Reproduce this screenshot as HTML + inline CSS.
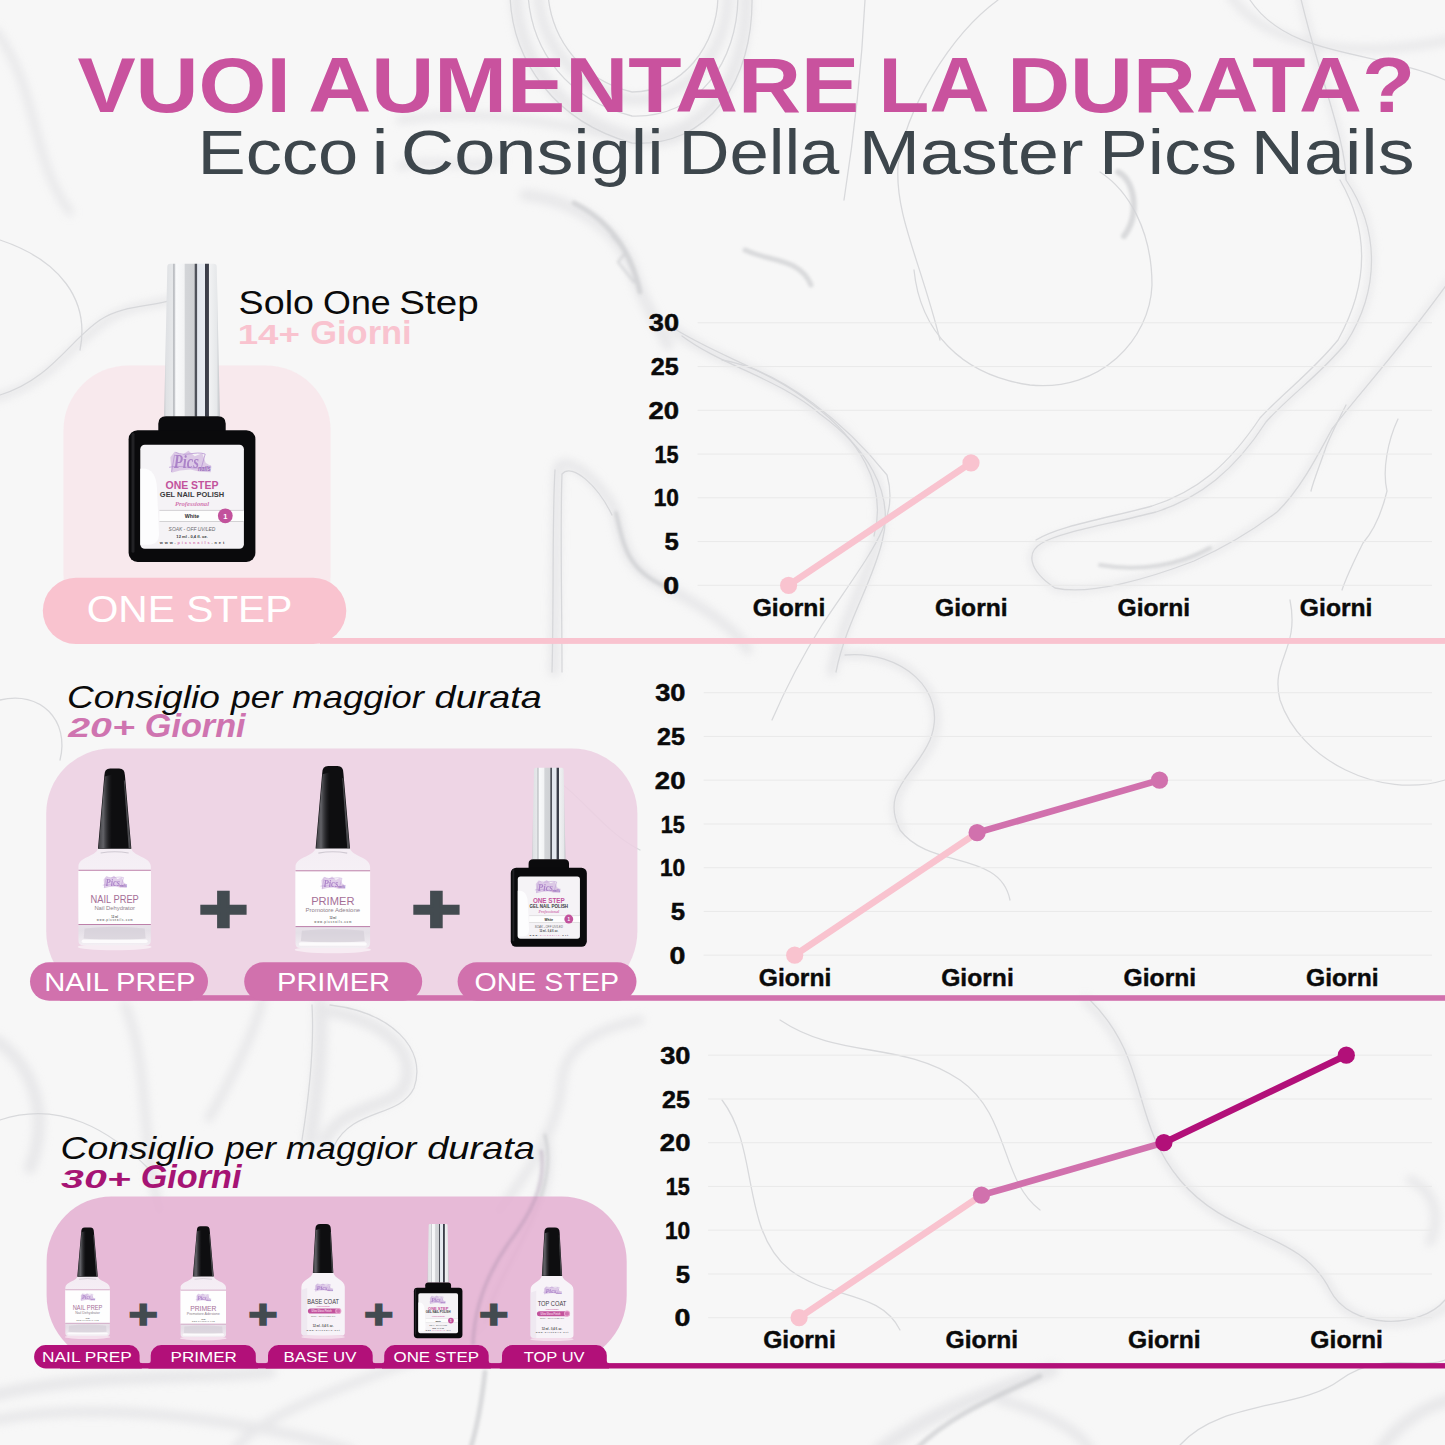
<!DOCTYPE html>
<html lang="it"><head><meta charset="utf-8"><title>Vuoi aumentare la durata?</title>
<style>html,body{margin:0;padding:0;background:#f7f7f7;}body{width:1445px;height:1445px;overflow:hidden;position:relative;}svg{position:absolute;left:0;top:0;display:block}</style></head><body>
<svg width="1445" height="1445" viewBox="0 0 1445 1445">
<defs><filter id="bl12" x="-20%" y="-20%" width="140%" height="140%"><feGaussianBlur stdDeviation="10"/></filter><filter id="bl5" x="-20%" y="-20%" width="140%" height="140%"><feGaussianBlur stdDeviation="4"/></filter><filter id="bl2" x="-20%" y="-20%" width="140%" height="140%"><feGaussianBlur stdDeviation="1.6"/></filter><filter id="bl07" x="-20%" y="-20%" width="140%" height="140%"><feGaussianBlur stdDeviation=".6"/></filter></defs>
<rect width="1445" height="1445" fill="#f7f7f7"/>
<g filter="url(#bl5)" fill="none" stroke="#dddde0" stroke-linecap="round" stroke-linejoin="round" opacity=".6">
<path d="M516,-5 C518,60 560,118 632,137 C705,142 748,80 746,-5" stroke-width="12"/>
<path d="M538,-5 C542,45 575,88 632,100 C690,100 728,50 728,-5" stroke-width="10"/>
<path d="M400,120 C480,108 560,122 632,141 C660,146 676,140 690,132" stroke-width="8"/>
<path d="M400,166 C440,158 470,170 500,160" stroke-width="8"/>
<path d="M525,195 C575,200 618,230 632,268 C640,295 655,320 668,345" stroke-width="11"/>
<path d="M674,330 C716,362 774,372 815,409 C860,440 892,486 878,538 C868,580 842,620 832,672" stroke-width="10"/>
<path d="M554,672 C556,600 555,520 558,467 C570,455 600,482 616,513 C624,548 628,570 666,587 C700,605 735,628 748,650" stroke-width="10"/>
<path d="M-5,398 C50,385 72,342 110,318 C140,300 170,308 195,288" stroke-width="8"/>
<path d="M-5,30 C40,90 30,160 70,212" stroke-width="8"/>
<path d="M1300,-5 C1320,80 1346,140 1346,180 C1380,230 1380,290 1346,343 C1320,375 1290,395 1266,422 C1235,470 1200,498 1156,512 C1110,524 1060,532 1042,543 C1026,552 1028,570 1055,588 C1090,596 1150,578 1194,561 C1230,545 1256,528 1277,512 C1300,490 1318,455 1332,429 C1360,392 1400,350 1450,280" stroke-width="6"/>
<path d="M845,655 C900,650 952,690 932,742 C916,776 880,792 902,832" stroke-width="8"/>
<path d="M320,1005 C322,1040 318,1090 310,1140" stroke-width="14"/>
<path d="M322,1010 C380,1018 418,1050 405,1085 C392,1110 345,1102 325,1140" stroke-width="12"/>
<path d="M-5,1040 C30,1062 52,1112 30,1168" stroke-width="12"/>
<path d="M125,1005 C150,1065 140,1140 160,1212" stroke-width="9"/>
<path d="M209,1118 C238,1068 258,1022 262,1000" stroke-width="9"/>
<path d="M498,1212 C540,1158 560,1118 562,1080 C565,1050 590,1030 640,1020" stroke-width="9"/>
<path d="M545,1135 C562,1200 500,1262 485,1322 C478,1352 270,1395 235,1450" stroke-width="9"/>
<path d="M270,1372 C200,1380 90,1372 -5,1395" stroke-width="12"/>
<path d="M-5,1420 C100,1400 250,1420 350,1450" stroke-width="10"/>
<path d="M1052,1370 C1000,1390 930,1410 880,1450" stroke-width="14"/>
<path d="M1000,1400 C1040,1410 1080,1430 1090,1450" stroke-width="10"/>
<path d="M1380,1450 C1400,1420 1430,1405 1450,1400" stroke-width="12"/>
<path d="M1085,1000 C1150,1060 1130,1120 1182,1182 C1232,1242 1300,1232 1332,1292 C1352,1332 1420,1332 1455,1300" stroke-width="8"/>
<path d="M1410,1180 C1434,1190 1442,1216 1430,1242" stroke-width="9"/>
<path d="M1230,-5 C1262,42 1340,62 1450,40" stroke-width="8"/>
</g>
<g filter="url(#bl2)" fill="none" stroke="#c9cacd" stroke-linecap="round" opacity=".65">
<path d="M574,203 C612,222 632,255 640,292" stroke-width="5"/>
<path d="M612,236 L626,252 L618,262 L634,282" stroke-width="2.5"/>
<path d="M1118,172 C1135,180 1140,215 1124,236" stroke-width="6"/>
<path d="M616,513 C624,548 628,570 666,587" stroke-width="4"/>
<path d="M545,1135 C562,1200 500,1262 485,1322" stroke-width="3"/>
<path d="M485,1372 C482,1400 478,1425 470,1450" stroke-width="5"/>
<path d="M1040,1376 C1000,1395 950,1415 915,1450" stroke-width="5"/>
<path d="M745,250 C770,262 800,258 811,285" stroke-width="5"/>
<path d="M1100,565 C1140,572 1180,565 1210,548" stroke-width="4"/>
</g>
<g filter="url(#bl07)" fill="none" stroke="#d3d4d7" stroke-width="1.3" stroke-linecap="round" opacity=".85">
<path d="M914,270 C920,330 960,375 1030,385 C1100,392 1150,340 1152,285 C1152,230 1128,190 1100,172"/>
<path d="M1300,-5 C1320,80 1346,140 1346,180 C1380,230 1380,290 1346,343 C1320,375 1290,395 1266,422 C1235,470 1200,498 1156,512 C1110,524 1060,532 1042,543 C1026,552 1028,570 1055,588 C1090,596 1150,578 1194,561 C1230,545 1256,528 1277,512 C1300,490 1318,455 1332,429 C1360,392 1400,350 1450,280"/>
<path d="M1340,180 C1370,232 1368,286 1338,340 C1312,372 1284,392 1260,418 C1228,466 1196,492 1152,506 C1108,518 1058,526 1036,540"/>
<path d="M1398,419 C1388,440 1382,470 1387,491 C1380,520 1370,535 1363,543 C1352,565 1346,578 1342,590"/>
<path d="M1346,405 C1336,425 1328,440 1325,450 C1318,470 1313,482 1311,491"/>
<path d="M722,360 C782,370 847,425 887,475 C900,520 872,550 822,625 C800,660 785,690 772,720"/>
<path d="M865,0 C862,60 855,130 844,200"/>
<path d="M998,0 C950,35 905,110 898,166 C895,215 920,260 940,340"/>
<path d="M670,326 C716,356 770,370 812,404 C858,438 888,484 874,536"/>
<path d="M682,336 C722,366 778,378 820,414 C864,446 896,490 882,542 C872,584 846,622 836,672"/>
<path d="M510,-5 C512,62 556,122 632,143 C708,148 754,82 752,-5"/>
<path d="M528,-5 C532,52 568,100 632,116 C698,118 738,62 738,-5"/>
<path d="M548,-5 C552,40 582,80 632,92 C682,92 718,45 718,-5"/>
<path d="M0,395 C50,380 70,340 100,320 C130,300 170,310 190,290"/>
<path d="M845,655 C900,650 950,690 930,740 C915,775 880,790 900,830 C930,870 1000,850 1010,900"/>
<path d="M1445,780 C1380,800 1300,760 1280,700 C1270,660 1300,650 1290,600"/>
<path d="M540,770 C580,790 600,830 640,850"/>
<path d="M0,1120 C60,1100 110,1130 150,1170"/>
<path d="M1090,1000 C1150,1060 1130,1120 1180,1180 C1230,1240 1300,1230 1330,1290 C1350,1330 1420,1330 1445,1300"/>
<path d="M780,1020 C840,1060 900,1040 960,1080 C1010,1115 1000,1180 1040,1210"/>
<path d="M722,1100 C760,1150 740,1230 790,1270 C830,1300 880,1290 900,1330"/>
<path d="M1250,0 C1290,60 1380,50 1445,80"/>
<path d="M0,240 C60,260 90,300 80,350"/>
<path d="M1180,1445 C1220,1400 1300,1410 1340,1380 C1380,1350 1420,1370 1445,1360"/>
<path d="M0,700 C40,690 70,720 60,760"/>
<path d="M552,672 C554,600 552,520 555,470"/>
<path d="M562,672 C562,600 560,530 562,474 C572,462 598,486 612,515"/>
<path d="M330,1005 C390,1012 428,1048 414,1088 C400,1118 352,1108 334,1146"/>
<path d="M312,1005 C314,1040 310,1090 302,1140"/>
</g>
<rect x="63.50" y="365.40" width="267.10" height="274.60" rx="65" ry="65" fill="#f8e7eb" fill-opacity=".86"/>
<rect x="42.80" y="577.70" width="303.50" height="66.20" rx="33.1" ry="33.1" fill="#f9c3cf" />
<rect x="320.00" y="638.00" width="1125.00" height="5.90" rx="0" ry="0" fill="#f9c3cf" />
<path d="M111.2,748.5 L572.4,748.5 A65,65 0 0 1 637.4,813.5 L637.4,931 A69,69 0 0 1 568.4,1000 L115.2,1000 A69,69 0 0 1 46.2,931 L46.2,813.5 A65,65 0 0 1 111.2,748.5 Z" fill="#eccfe2" fill-opacity=".86"/>
<rect x="60.00" y="995.20" width="1385.00" height="5.60" rx="0" ry="0" fill="#d171ad" />
<path d="M111.6,1196.4 L561.7,1196.4 A65,65 0 0 1 626.7,1261.4 L626.7,1295.5 A69,69 0 0 1 557.7,1364.5 L115.6,1364.5 A69,69 0 0 1 46.6,1295.5 L46.6,1261.4 A65,65 0 0 1 111.6,1196.4 Z" fill="#e5b2d3" fill-opacity=".88"/>
<path d="M541,1150 C547,1185 530,1215 508,1244 C490,1270 474,1305 473,1345" fill="none" stroke="#9d86a3" stroke-width="3.5" opacity=".33" filter="url(#bl2)"/>
<rect x="60.00" y="1363.10" width="1385.00" height="5.40" rx="0" ry="0" fill="#b21079" />
<g>
<line x1="697.6" y1="585.30" x2="1432" y2="585.30" stroke="#e9e9e9" stroke-width="1"/>
<line x1="697.6" y1="541.55" x2="1432" y2="541.55" stroke="#e9e9e9" stroke-width="1"/>
<line x1="697.6" y1="497.80" x2="1432" y2="497.80" stroke="#e9e9e9" stroke-width="1"/>
<line x1="697.6" y1="454.05" x2="1432" y2="454.05" stroke="#e9e9e9" stroke-width="1"/>
<line x1="697.6" y1="410.30" x2="1432" y2="410.30" stroke="#e9e9e9" stroke-width="1"/>
<line x1="697.6" y1="366.55" x2="1432" y2="366.55" stroke="#e9e9e9" stroke-width="1"/>
<line x1="697.6" y1="322.80" x2="1432" y2="322.80" stroke="#e9e9e9" stroke-width="1"/>
<text x="663.27" y="593.85" font-family='"Liberation Sans", "DejaVu Sans", sans-serif' font-size="24.40" font-weight="700" font-style="normal" fill="#0a0a0a" textLength="15.90" lengthAdjust="spacingAndGlyphs" stroke="#0a0a0a" stroke-width=".5">0</text>
<text x="664.41" y="550.10" font-family='"Liberation Sans", "DejaVu Sans", sans-serif' font-size="24.40" font-weight="700" font-style="normal" fill="#0a0a0a" textLength="14.31" lengthAdjust="spacingAndGlyphs" stroke="#0a0a0a" stroke-width=".5">5</text>
<text x="653.67" y="506.35" font-family='"Liberation Sans", "DejaVu Sans", sans-serif' font-size="24.40" font-weight="700" font-style="normal" fill="#0a0a0a" textLength="25.26" lengthAdjust="spacingAndGlyphs" stroke="#0a0a0a" stroke-width=".5">10</text>
<text x="654.54" y="462.60" font-family='"Liberation Sans", "DejaVu Sans", sans-serif' font-size="24.40" font-weight="700" font-style="normal" fill="#0a0a0a" textLength="24.06" lengthAdjust="spacingAndGlyphs" stroke="#0a0a0a" stroke-width=".5">15</text>
<text x="648.55" y="418.85" font-family='"Liberation Sans", "DejaVu Sans", sans-serif' font-size="24.40" font-weight="700" font-style="normal" fill="#0a0a0a" textLength="30.58" lengthAdjust="spacingAndGlyphs" stroke="#0a0a0a" stroke-width=".5">20</text>
<text x="650.83" y="375.10" font-family='"Liberation Sans", "DejaVu Sans", sans-serif' font-size="24.40" font-weight="700" font-style="normal" fill="#0a0a0a" textLength="27.87" lengthAdjust="spacingAndGlyphs" stroke="#0a0a0a" stroke-width=".5">25</text>
<text x="648.88" y="331.35" font-family='"Liberation Sans", "DejaVu Sans", sans-serif' font-size="24.40" font-weight="700" font-style="normal" fill="#0a0a0a" textLength="30.24" lengthAdjust="spacingAndGlyphs" stroke="#0a0a0a" stroke-width=".5">30</text>
<text x="752.69" y="615.60" font-family='"Liberation Sans", "DejaVu Sans", sans-serif' font-size="23.30" font-weight="700" font-style="normal" fill="#0a0a0a" textLength="72.56" lengthAdjust="spacingAndGlyphs" stroke="#0a0a0a" stroke-width=".4">Giorni</text>
<text x="935.09" y="615.60" font-family='"Liberation Sans", "DejaVu Sans", sans-serif' font-size="23.30" font-weight="700" font-style="normal" fill="#0a0a0a" textLength="72.56" lengthAdjust="spacingAndGlyphs" stroke="#0a0a0a" stroke-width=".4">Giorni</text>
<text x="1117.49" y="615.60" font-family='"Liberation Sans", "DejaVu Sans", sans-serif' font-size="23.30" font-weight="700" font-style="normal" fill="#0a0a0a" textLength="72.56" lengthAdjust="spacingAndGlyphs" stroke="#0a0a0a" stroke-width=".4">Giorni</text>
<text x="1299.89" y="615.60" font-family='"Liberation Sans", "DejaVu Sans", sans-serif' font-size="23.30" font-weight="700" font-style="normal" fill="#0a0a0a" textLength="72.56" lengthAdjust="spacingAndGlyphs" stroke="#0a0a0a" stroke-width=".4">Giorni</text>
<line x1="788.60" y1="585.30" x2="971.00" y2="462.80" stroke="#f9c3cf" stroke-width="6.6" stroke-linecap="round"/>
<circle cx="788.60" cy="585.30" r="8.6" fill="#f9c3cf"/>
<circle cx="971.00" cy="462.80" r="8.6" fill="#f9c3cf"/>
</g>
<g>
<line x1="703.7" y1="955.20" x2="1432" y2="955.20" stroke="#e9e9e9" stroke-width="1"/>
<line x1="703.7" y1="911.45" x2="1432" y2="911.45" stroke="#e9e9e9" stroke-width="1"/>
<line x1="703.7" y1="867.70" x2="1432" y2="867.70" stroke="#e9e9e9" stroke-width="1"/>
<line x1="703.7" y1="823.95" x2="1432" y2="823.95" stroke="#e9e9e9" stroke-width="1"/>
<line x1="703.7" y1="780.20" x2="1432" y2="780.20" stroke="#e9e9e9" stroke-width="1"/>
<line x1="703.7" y1="736.45" x2="1432" y2="736.45" stroke="#e9e9e9" stroke-width="1"/>
<line x1="703.7" y1="692.70" x2="1432" y2="692.70" stroke="#e9e9e9" stroke-width="1"/>
<text x="669.57" y="963.75" font-family='"Liberation Sans", "DejaVu Sans", sans-serif' font-size="24.40" font-weight="700" font-style="normal" fill="#0a0a0a" textLength="15.90" lengthAdjust="spacingAndGlyphs" stroke="#0a0a0a" stroke-width=".5">0</text>
<text x="670.71" y="920.00" font-family='"Liberation Sans", "DejaVu Sans", sans-serif' font-size="24.40" font-weight="700" font-style="normal" fill="#0a0a0a" textLength="14.31" lengthAdjust="spacingAndGlyphs" stroke="#0a0a0a" stroke-width=".5">5</text>
<text x="659.97" y="876.25" font-family='"Liberation Sans", "DejaVu Sans", sans-serif' font-size="24.40" font-weight="700" font-style="normal" fill="#0a0a0a" textLength="25.26" lengthAdjust="spacingAndGlyphs" stroke="#0a0a0a" stroke-width=".5">10</text>
<text x="660.84" y="832.50" font-family='"Liberation Sans", "DejaVu Sans", sans-serif' font-size="24.40" font-weight="700" font-style="normal" fill="#0a0a0a" textLength="24.06" lengthAdjust="spacingAndGlyphs" stroke="#0a0a0a" stroke-width=".5">15</text>
<text x="654.85" y="788.75" font-family='"Liberation Sans", "DejaVu Sans", sans-serif' font-size="24.40" font-weight="700" font-style="normal" fill="#0a0a0a" textLength="30.58" lengthAdjust="spacingAndGlyphs" stroke="#0a0a0a" stroke-width=".5">20</text>
<text x="657.13" y="745.00" font-family='"Liberation Sans", "DejaVu Sans", sans-serif' font-size="24.40" font-weight="700" font-style="normal" fill="#0a0a0a" textLength="27.87" lengthAdjust="spacingAndGlyphs" stroke="#0a0a0a" stroke-width=".5">25</text>
<text x="655.18" y="701.25" font-family='"Liberation Sans", "DejaVu Sans", sans-serif' font-size="24.40" font-weight="700" font-style="normal" fill="#0a0a0a" textLength="30.24" lengthAdjust="spacingAndGlyphs" stroke="#0a0a0a" stroke-width=".5">30</text>
<text x="758.79" y="985.50" font-family='"Liberation Sans", "DejaVu Sans", sans-serif' font-size="23.30" font-weight="700" font-style="normal" fill="#0a0a0a" textLength="72.56" lengthAdjust="spacingAndGlyphs" stroke="#0a0a0a" stroke-width=".4">Giorni</text>
<text x="941.19" y="985.50" font-family='"Liberation Sans", "DejaVu Sans", sans-serif' font-size="23.30" font-weight="700" font-style="normal" fill="#0a0a0a" textLength="72.56" lengthAdjust="spacingAndGlyphs" stroke="#0a0a0a" stroke-width=".4">Giorni</text>
<text x="1123.59" y="985.50" font-family='"Liberation Sans", "DejaVu Sans", sans-serif' font-size="23.30" font-weight="700" font-style="normal" fill="#0a0a0a" textLength="72.56" lengthAdjust="spacingAndGlyphs" stroke="#0a0a0a" stroke-width=".4">Giorni</text>
<text x="1305.99" y="985.50" font-family='"Liberation Sans", "DejaVu Sans", sans-serif' font-size="23.30" font-weight="700" font-style="normal" fill="#0a0a0a" textLength="72.56" lengthAdjust="spacingAndGlyphs" stroke="#0a0a0a" stroke-width=".4">Giorni</text>
<line x1="794.70" y1="955.20" x2="977.10" y2="832.70" stroke="#f9c3cf" stroke-width="6.6" stroke-linecap="round"/>
<line x1="977.10" y1="832.70" x2="1159.50" y2="780.20" stroke="#d171ad" stroke-width="6.6" stroke-linecap="round"/>
<circle cx="794.70" cy="955.20" r="8.6" fill="#f9c3cf"/>
<circle cx="977.10" cy="832.70" r="8.6" fill="#d171ad"/>
<circle cx="1159.50" cy="780.20" r="8.6" fill="#d171ad"/>
</g>
<g>
<line x1="708.1" y1="1317.70" x2="1432" y2="1317.70" stroke="#e9e9e9" stroke-width="1"/>
<line x1="708.1" y1="1273.95" x2="1432" y2="1273.95" stroke="#e9e9e9" stroke-width="1"/>
<line x1="708.1" y1="1230.20" x2="1432" y2="1230.20" stroke="#e9e9e9" stroke-width="1"/>
<line x1="708.1" y1="1186.45" x2="1432" y2="1186.45" stroke="#e9e9e9" stroke-width="1"/>
<line x1="708.1" y1="1142.70" x2="1432" y2="1142.70" stroke="#e9e9e9" stroke-width="1"/>
<line x1="708.1" y1="1098.95" x2="1432" y2="1098.95" stroke="#e9e9e9" stroke-width="1"/>
<line x1="708.1" y1="1055.20" x2="1432" y2="1055.20" stroke="#e9e9e9" stroke-width="1"/>
<text x="674.57" y="1326.25" font-family='"Liberation Sans", "DejaVu Sans", sans-serif' font-size="24.40" font-weight="700" font-style="normal" fill="#0a0a0a" textLength="15.90" lengthAdjust="spacingAndGlyphs" stroke="#0a0a0a" stroke-width=".5">0</text>
<text x="675.71" y="1282.50" font-family='"Liberation Sans", "DejaVu Sans", sans-serif' font-size="24.40" font-weight="700" font-style="normal" fill="#0a0a0a" textLength="14.31" lengthAdjust="spacingAndGlyphs" stroke="#0a0a0a" stroke-width=".5">5</text>
<text x="664.97" y="1238.75" font-family='"Liberation Sans", "DejaVu Sans", sans-serif' font-size="24.40" font-weight="700" font-style="normal" fill="#0a0a0a" textLength="25.26" lengthAdjust="spacingAndGlyphs" stroke="#0a0a0a" stroke-width=".5">10</text>
<text x="665.84" y="1195.00" font-family='"Liberation Sans", "DejaVu Sans", sans-serif' font-size="24.40" font-weight="700" font-style="normal" fill="#0a0a0a" textLength="24.06" lengthAdjust="spacingAndGlyphs" stroke="#0a0a0a" stroke-width=".5">15</text>
<text x="659.85" y="1151.25" font-family='"Liberation Sans", "DejaVu Sans", sans-serif' font-size="24.40" font-weight="700" font-style="normal" fill="#0a0a0a" textLength="30.58" lengthAdjust="spacingAndGlyphs" stroke="#0a0a0a" stroke-width=".5">20</text>
<text x="662.13" y="1107.50" font-family='"Liberation Sans", "DejaVu Sans", sans-serif' font-size="24.40" font-weight="700" font-style="normal" fill="#0a0a0a" textLength="27.87" lengthAdjust="spacingAndGlyphs" stroke="#0a0a0a" stroke-width=".5">25</text>
<text x="660.18" y="1063.75" font-family='"Liberation Sans", "DejaVu Sans", sans-serif' font-size="24.40" font-weight="700" font-style="normal" fill="#0a0a0a" textLength="30.24" lengthAdjust="spacingAndGlyphs" stroke="#0a0a0a" stroke-width=".5">30</text>
<text x="763.19" y="1348.00" font-family='"Liberation Sans", "DejaVu Sans", sans-serif' font-size="23.30" font-weight="700" font-style="normal" fill="#0a0a0a" textLength="72.56" lengthAdjust="spacingAndGlyphs" stroke="#0a0a0a" stroke-width=".4">Giorni</text>
<text x="945.59" y="1348.00" font-family='"Liberation Sans", "DejaVu Sans", sans-serif' font-size="23.30" font-weight="700" font-style="normal" fill="#0a0a0a" textLength="72.56" lengthAdjust="spacingAndGlyphs" stroke="#0a0a0a" stroke-width=".4">Giorni</text>
<text x="1127.99" y="1348.00" font-family='"Liberation Sans", "DejaVu Sans", sans-serif' font-size="23.30" font-weight="700" font-style="normal" fill="#0a0a0a" textLength="72.56" lengthAdjust="spacingAndGlyphs" stroke="#0a0a0a" stroke-width=".4">Giorni</text>
<text x="1310.39" y="1348.00" font-family='"Liberation Sans", "DejaVu Sans", sans-serif' font-size="23.30" font-weight="700" font-style="normal" fill="#0a0a0a" textLength="72.56" lengthAdjust="spacingAndGlyphs" stroke="#0a0a0a" stroke-width=".4">Giorni</text>
<line x1="799.10" y1="1317.70" x2="981.50" y2="1195.20" stroke="#f9c3cf" stroke-width="6.6" stroke-linecap="round"/>
<line x1="981.50" y1="1195.20" x2="1163.90" y2="1142.70" stroke="#d171ad" stroke-width="6.6" stroke-linecap="round"/>
<line x1="1163.90" y1="1142.70" x2="1346.30" y2="1055.20" stroke="#b21079" stroke-width="6.6" stroke-linecap="round"/>
<circle cx="799.10" cy="1317.70" r="8.6" fill="#f9c3cf"/>
<circle cx="981.50" cy="1195.20" r="8.6" fill="#d171ad"/>
<circle cx="1163.90" cy="1142.70" r="8.6" fill="#b21079"/>
<circle cx="1346.30" cy="1055.20" r="8.6" fill="#b21079"/>
</g>
<defs>
<linearGradient id="capS" x1="0" y1="0" x2="1" y2="0">
<stop offset="0" stop-color="#c4c7cb"/><stop offset=".035" stop-color="#dfe1e4"/><stop offset=".15" stop-color="#e6e8ea"/>
<stop offset=".175" stop-color="#aeb1b6"/><stop offset=".21" stop-color="#f9fafb"/><stop offset=".36" stop-color="#f2f3f4"/>
<stop offset=".378" stop-color="#d3d5d8"/><stop offset=".54" stop-color="#cfd1d4"/><stop offset=".556" stop-color="#4f525a"/>
<stop offset=".585" stop-color="#50535b"/><stop offset=".6" stop-color="#e3e7ee"/><stop offset=".725" stop-color="#e7ebf1"/>
<stop offset=".737" stop-color="#3a3d48"/><stop offset=".795" stop-color="#3e414c"/><stop offset=".81" stop-color="#f1f2f3"/>
<stop offset=".94" stop-color="#e6e8ea"/><stop offset="1" stop-color="#bfc2c6"/></linearGradient>
<linearGradient id="capB" x1="0" y1="0" x2="1" y2="0">
<stop offset="0" stop-color="#5e5e63"/><stop offset=".07" stop-color="#7a7a80"/><stop offset=".2" stop-color="#3a3a3e"/><stop offset=".34" stop-color="#131315"/>
<stop offset=".72" stop-color="#0b0b0d"/><stop offset=".88" stop-color="#38383c"/><stop offset=".95" stop-color="#4a4a4f"/><stop offset="1" stop-color="#222225"/></linearGradient>
<linearGradient id="capHL" x1="0" y1="0" x2="1" y2="0"><stop offset="0" stop-color="#6a6a70" stop-opacity=".55"/><stop offset=".35" stop-color="#77777d" stop-opacity=".8"/><stop offset="1" stop-color="#2a2a2e" stop-opacity="0"/></linearGradient>
<linearGradient id="glass" x1="0" y1="0" x2="0" y2="1">
<stop offset="0" stop-color="#f4eff5"/><stop offset=".5" stop-color="#f8f5f9"/><stop offset=".85" stop-color="#e4e0e7"/><stop offset="1" stop-color="#f3f0f4"/></linearGradient>
</defs>
<g transform="translate(192.00,263.70) scale(1)">
<path d="M-24.7,3 Q-24.7,0 -21.7,0 L21.7,0 Q24.7,0 24.7,3 L27.9,153 L-27.9,153 Z" fill="url(#capS)"/>
<path d="M-33.7,172 L-33.7,160 Q-33.7,152.5 -26,152.5 L26,152.5 Q33.7,152.5 33.7,160 L33.7,172 Z" fill="#0b0b0d"/>
<rect x="-63.4" y="166.5" width="126.8" height="131.7" rx="9" ry="9" fill="#0a0a0c"/>
<rect x="-60.5" y="169" width="3" height="120" rx="1.5" fill="#2c2c30" opacity=".7"/>
<rect x="-51.7" y="181.1" width="103.6" height="103.9" rx="4.5" fill="#f5f3f6"/>
<path d="M-51.7,205 Q-36,203 -35,225 L-33,270 Q-33,281 -44,281 L-51.7,281 Z" fill="#fdfdfe"/>
<path d="M-21.66,193.60 L-17.46,188.10 L-9.90,191.40 L-3.60,187.00 L2.70,192.50 L10.26,189.64 L13.62,199.10 L19.50,202.84 L18.66,208.56 L6.90,207.90 L-1.50,205.70 L-12.00,206.80 L-20.40,209.00 Z" fill="#c3a0d6" opacity=".5"/><path d="M-20.40,207.90 L-17.46,191.40 M-22.50,203.50 C-9.90,200.20 2.70,207.90 18.66,202.40 M-16.20,188.76 C-5.70,193.60 2.70,187.00 13.20,190.30 L8.58,206.80" fill="none" stroke="#b48fd0" stroke-width="0.92" stroke-linecap="round" opacity=".8"/><text x="-18.30" y="204.60" font-family='"Liberation Serif", serif' font-size="18.04" font-weight="700" font-style="italic" fill="#a77cc6" textLength="25.20" lengthAdjust="spacingAndGlyphs" opacity=".9">Pics</text><text x="6.06" y="207.46" font-family='"Liberation Sans", sans-serif' font-size="6.60" font-weight="700" font-style="italic" fill="#9a6fbc" textLength="12.60" lengthAdjust="spacingAndGlyphs">nails</text>
<text x="0.00" y="225.20" font-family='"Liberation Sans", "DejaVu Sans", sans-serif' font-size="10.60" font-weight="700" font-style="normal" fill="#c2529c" text-anchor="middle" textLength="53.00" lengthAdjust="spacingAndGlyphs">ONE STEP</text>
<text x="0.00" y="232.90" font-family='"Liberation Sans", "DejaVu Sans", sans-serif' font-size="7.50" font-weight="700" font-style="normal" fill="#3a3a3c" text-anchor="middle" textLength="64.30" lengthAdjust="spacingAndGlyphs">GEL NAIL POLISH</text>
<text x="0.00" y="242.60" font-family='"Liberation Serif", serif' font-size="6.30" font-weight="700" font-style="italic" fill="#d277b0" text-anchor="middle" textLength="34.00" lengthAdjust="spacingAndGlyphs">Professional</text>
<rect x="-32.6" y="246.6" width="84.5" height="11.2" fill="#fdfdfd"/><rect x="-32.6" y="246.2" width="84.5" height=".9" fill="#cfcdd0"/><rect x="-32.6" y="257.4" width="84.5" height=".9" fill="#cfcdd0"/>
<text x="0.00" y="254.60" font-family='"Liberation Sans", "DejaVu Sans", sans-serif' font-size="5.80" font-weight="700" font-style="normal" fill="#2a2a2c" text-anchor="middle" textLength="14.30" lengthAdjust="spacingAndGlyphs">White</text>
<circle cx="33.3" cy="252.1" r="7.4" fill="#c2529c"/><text x="33.30" y="254.90" font-family='"Liberation Sans", "DejaVu Sans", sans-serif' font-size="7.50" font-weight="700" font-style="normal" fill="#fff" text-anchor="middle">1</text>
<text x="0.00" y="267.30" font-family='"Liberation Sans", "DejaVu Sans", sans-serif' font-size="6.20" font-weight="400" font-style="italic" fill="#6a6a6e" text-anchor="middle" textLength="46.80" lengthAdjust="spacingAndGlyphs">SOAK - OFF UV/LED</text>
<text x="0.00" y="274.20" font-family='"Liberation Sans", "DejaVu Sans", sans-serif' font-size="4.30" font-weight="700" font-style="normal" fill="#3a3a3c" text-anchor="middle" textLength="31.30" lengthAdjust="spacingAndGlyphs">12 ml - 0,4 fl. oz.</text>
<text x="0" y="280.1" text-anchor="middle" font-family='"Liberation Sans", "DejaVu Sans", sans-serif' font-size="3.9" font-weight="700" textLength="64.5" lengthAdjust="spacing" fill="#3a3a3c">www.<tspan fill="#d277b0">picsnails</tspan>.net</text>
</g>
<g transform="translate(114.65,768.50) scale(1)">
<ellipse cx="0" cy="178.5" rx="37" ry="3.2" fill="#fff" opacity=".55"/>
<path d="M-16.5,79 L16.5,79 C17,88 36.2,88 36.2,98 L36.2,172 Q36.2,176.7 31.5,176.7 L-31.5,176.7 Q-36.2,176.7 -36.2,172 L-36.2,98 C-36.2,88 -17,88 -16.5,79 Z" fill="url(#glass)" opacity=".93"/>
<path d="M-30,160 Q0,156.5 30,160 L31,170 Q0,173 -31,170 Z" fill="#cfcbd3" opacity=".55"/>
<rect x="-33" y="171" width="66" height="3.6" rx="1.8" fill="#fff" opacity=".8"/>
<path d="M-14,84.5 Q0,82 14,84.5" stroke="#cfc9d2" stroke-width="1.2" fill="none"/>
<rect x="-36.2" y="101.5" width="72.4" height="54.6" fill="#fefefe"/>
<rect x="-36.2" y="101.3" width="72.4" height=".9" fill="#b774a2"/><rect x="-36.2" y="155.5" width="72.4" height=".9" fill="#b774a2"/>
<path d="M-11.02,111.00 L-8.62,107.88 L-4.30,109.75 L-0.70,107.25 L2.90,110.38 L7.22,108.75 L9.14,114.12 L12.50,116.25 L12.02,119.50 L5.30,119.12 L0.50,117.88 L-5.50,118.50 L-10.30,119.75 Z" fill="#c3a0d6" opacity=".5"/><path d="M-10.30,119.12 L-8.62,109.75 M-11.50,116.62 C-4.30,114.75 2.90,119.12 12.02,116.00 M-7.90,108.25 C-1.90,111.00 2.90,107.25 8.90,109.12 L6.26,118.50" fill="none" stroke="#b48fd0" stroke-width="0.53" stroke-linecap="round" opacity=".8"/><text x="-9.10" y="117.25" font-family='"Liberation Serif", serif' font-size="10.25" font-weight="700" font-style="italic" fill="#a77cc6" textLength="14.40" lengthAdjust="spacingAndGlyphs" opacity=".9">Pics</text><text x="4.82" y="118.88" font-family='"Liberation Sans", sans-serif' font-size="3.75" font-weight="700" font-style="italic" fill="#9a6fbc" textLength="7.20" lengthAdjust="spacingAndGlyphs">nails</text>
<text x="0.00" y="134.80" font-family='"Liberation Sans", "DejaVu Sans", sans-serif' font-size="11.20" font-weight="400" font-style="normal" fill="#a56f97" text-anchor="middle" textLength="48.30" lengthAdjust="spacingAndGlyphs">NAIL PREP</text>
<text x="0.00" y="141.60" font-family='"Liberation Sans", "DejaVu Sans", sans-serif' font-size="5.00" font-weight="400" font-style="normal" fill="#8f7f8c" text-anchor="middle" textLength="40.50" lengthAdjust="spacingAndGlyphs">Nail Dehydrator</text>
<text x="0.00" y="149.00" font-family='"Liberation Sans", "DejaVu Sans", sans-serif' font-size="2.60" font-weight="700" font-style="normal" fill="#555" text-anchor="middle">12 ml</text>
<text x="0" y="152.6" text-anchor="middle" font-family='"Liberation Sans", "DejaVu Sans", sans-serif' font-size="2.6" font-weight="700" textLength="36" lengthAdjust="spacing" fill="#777">www.picsnails.com</text>
<path d="M-10.3,7 Q-10.3,0 -4.5,0 L4.5,0 Q10.3,0 10.3,7 L16.7,80.2 L-16.7,80.2 Z" fill="#0e0e10"/>
<path d="M-9.8,8 L-2.5,6 L-3.5,79.7 L-16.2,79.7 Z" fill="url(#capHL)"/>
<path d="M9.2,12 L10.1,12 L16.2,79.5 L14,79.5 Z" fill="#66666b" opacity=".7" filter="url(#bl07)"/>
</g>
<g transform="translate(332.80,766.00) scale(1.03)">
<ellipse cx="0" cy="178.5" rx="37" ry="3.2" fill="#fff" opacity=".55"/>
<path d="M-16.5,79 L16.5,79 C17,88 36.2,88 36.2,98 L36.2,172 Q36.2,176.7 31.5,176.7 L-31.5,176.7 Q-36.2,176.7 -36.2,172 L-36.2,98 C-36.2,88 -17,88 -16.5,79 Z" fill="url(#glass)" opacity=".93"/>
<path d="M-30,160 Q0,156.5 30,160 L31,170 Q0,173 -31,170 Z" fill="#cfcbd3" opacity=".55"/>
<rect x="-33" y="171" width="66" height="3.6" rx="1.8" fill="#fff" opacity=".8"/>
<path d="M-14,84.5 Q0,82 14,84.5" stroke="#cfc9d2" stroke-width="1.2" fill="none"/>
<rect x="-36.2" y="101.5" width="72.4" height="54.6" fill="#fefefe"/>
<rect x="-36.2" y="101.3" width="72.4" height=".9" fill="#b774a2"/><rect x="-36.2" y="155.5" width="72.4" height=".9" fill="#b774a2"/>
<path d="M-11.02,111.00 L-8.62,107.88 L-4.30,109.75 L-0.70,107.25 L2.90,110.38 L7.22,108.75 L9.14,114.12 L12.50,116.25 L12.02,119.50 L5.30,119.12 L0.50,117.88 L-5.50,118.50 L-10.30,119.75 Z" fill="#c3a0d6" opacity=".5"/><path d="M-10.30,119.12 L-8.62,109.75 M-11.50,116.62 C-4.30,114.75 2.90,119.12 12.02,116.00 M-7.90,108.25 C-1.90,111.00 2.90,107.25 8.90,109.12 L6.26,118.50" fill="none" stroke="#b48fd0" stroke-width="0.53" stroke-linecap="round" opacity=".8"/><text x="-9.10" y="117.25" font-family='"Liberation Serif", serif' font-size="10.25" font-weight="700" font-style="italic" fill="#a77cc6" textLength="14.40" lengthAdjust="spacingAndGlyphs" opacity=".9">Pics</text><text x="4.82" y="118.88" font-family='"Liberation Sans", sans-serif' font-size="3.75" font-weight="700" font-style="italic" fill="#9a6fbc" textLength="7.20" lengthAdjust="spacingAndGlyphs">nails</text>
<text x="0.00" y="134.80" font-family='"Liberation Sans", "DejaVu Sans", sans-serif' font-size="11.20" font-weight="400" font-style="normal" fill="#a56f97" text-anchor="middle" textLength="42.00" lengthAdjust="spacingAndGlyphs">PRIMER</text>
<text x="0.00" y="141.60" font-family='"Liberation Sans", "DejaVu Sans", sans-serif' font-size="5.00" font-weight="400" font-style="normal" fill="#8f7f8c" text-anchor="middle" textLength="53.00" lengthAdjust="spacingAndGlyphs">Promotore Adesione</text>
<text x="0.00" y="149.00" font-family='"Liberation Sans", "DejaVu Sans", sans-serif' font-size="2.60" font-weight="700" font-style="normal" fill="#555" text-anchor="middle">12 ml</text>
<text x="0" y="152.6" text-anchor="middle" font-family='"Liberation Sans", "DejaVu Sans", sans-serif' font-size="2.6" font-weight="700" textLength="36" lengthAdjust="spacing" fill="#777">www.picsnails.com</text>
<path d="M-10.3,7 Q-10.3,0 -4.5,0 L4.5,0 Q10.3,0 10.3,7 L16.7,80.2 L-16.7,80.2 Z" fill="#0e0e10"/>
<path d="M-9.8,8 L-2.5,6 L-3.5,79.7 L-16.2,79.7 Z" fill="url(#capHL)"/>
<path d="M9.2,12 L10.1,12 L16.2,79.5 L14,79.5 Z" fill="#66666b" opacity=".7" filter="url(#bl07)"/>
</g>
<g transform="translate(548.80,767.80) scale(0.6)">
<path d="M-24.7,3 Q-24.7,0 -21.7,0 L21.7,0 Q24.7,0 24.7,3 L27.9,153 L-27.9,153 Z" fill="url(#capS)"/>
<path d="M-33.7,172 L-33.7,160 Q-33.7,152.5 -26,152.5 L26,152.5 Q33.7,152.5 33.7,160 L33.7,172 Z" fill="#0b0b0d"/>
<rect x="-63.4" y="166.5" width="126.8" height="131.7" rx="9" ry="9" fill="#0a0a0c"/>
<rect x="-60.5" y="169" width="3" height="120" rx="1.5" fill="#2c2c30" opacity=".7"/>
<rect x="-51.7" y="181.1" width="103.6" height="103.9" rx="4.5" fill="#f5f3f6"/>
<path d="M-51.7,205 Q-36,203 -35,225 L-33,270 Q-33,281 -44,281 L-51.7,281 Z" fill="#fdfdfe"/>
<path d="M-21.66,193.60 L-17.46,188.10 L-9.90,191.40 L-3.60,187.00 L2.70,192.50 L10.26,189.64 L13.62,199.10 L19.50,202.84 L18.66,208.56 L6.90,207.90 L-1.50,205.70 L-12.00,206.80 L-20.40,209.00 Z" fill="#c3a0d6" opacity=".5"/><path d="M-20.40,207.90 L-17.46,191.40 M-22.50,203.50 C-9.90,200.20 2.70,207.90 18.66,202.40 M-16.20,188.76 C-5.70,193.60 2.70,187.00 13.20,190.30 L8.58,206.80" fill="none" stroke="#b48fd0" stroke-width="0.92" stroke-linecap="round" opacity=".8"/><text x="-18.30" y="204.60" font-family='"Liberation Serif", serif' font-size="18.04" font-weight="700" font-style="italic" fill="#a77cc6" textLength="25.20" lengthAdjust="spacingAndGlyphs" opacity=".9">Pics</text><text x="6.06" y="207.46" font-family='"Liberation Sans", sans-serif' font-size="6.60" font-weight="700" font-style="italic" fill="#9a6fbc" textLength="12.60" lengthAdjust="spacingAndGlyphs">nails</text>
<text x="0.00" y="225.20" font-family='"Liberation Sans", "DejaVu Sans", sans-serif' font-size="10.60" font-weight="700" font-style="normal" fill="#c2529c" text-anchor="middle" textLength="53.00" lengthAdjust="spacingAndGlyphs">ONE STEP</text>
<text x="0.00" y="232.90" font-family='"Liberation Sans", "DejaVu Sans", sans-serif' font-size="7.50" font-weight="700" font-style="normal" fill="#3a3a3c" text-anchor="middle" textLength="64.30" lengthAdjust="spacingAndGlyphs">GEL NAIL POLISH</text>
<text x="0.00" y="242.60" font-family='"Liberation Serif", serif' font-size="6.30" font-weight="700" font-style="italic" fill="#d277b0" text-anchor="middle" textLength="34.00" lengthAdjust="spacingAndGlyphs">Professional</text>
<rect x="-32.6" y="246.6" width="84.5" height="11.2" fill="#fdfdfd"/><rect x="-32.6" y="246.2" width="84.5" height=".9" fill="#cfcdd0"/><rect x="-32.6" y="257.4" width="84.5" height=".9" fill="#cfcdd0"/>
<text x="0.00" y="254.60" font-family='"Liberation Sans", "DejaVu Sans", sans-serif' font-size="5.80" font-weight="700" font-style="normal" fill="#2a2a2c" text-anchor="middle" textLength="14.30" lengthAdjust="spacingAndGlyphs">White</text>
<circle cx="33.3" cy="252.1" r="7.4" fill="#c2529c"/><text x="33.30" y="254.90" font-family='"Liberation Sans", "DejaVu Sans", sans-serif' font-size="7.50" font-weight="700" font-style="normal" fill="#fff" text-anchor="middle">1</text>
<text x="0.00" y="267.30" font-family='"Liberation Sans", "DejaVu Sans", sans-serif' font-size="6.20" font-weight="400" font-style="italic" fill="#6a6a6e" text-anchor="middle" textLength="46.80" lengthAdjust="spacingAndGlyphs">SOAK - OFF UV/LED</text>
<text x="0.00" y="274.20" font-family='"Liberation Sans", "DejaVu Sans", sans-serif' font-size="4.30" font-weight="700" font-style="normal" fill="#3a3a3c" text-anchor="middle" textLength="31.30" lengthAdjust="spacingAndGlyphs">12 ml - 0,4 fl. oz.</text>
<text x="0" y="280.1" text-anchor="middle" font-family='"Liberation Sans", "DejaVu Sans", sans-serif' font-size="3.9" font-weight="700" textLength="64.5" lengthAdjust="spacing" fill="#3a3a3c">www.<tspan fill="#d277b0">picsnails</tspan>.net</text>
</g>
<g transform="translate(87.55,1227.40) scale(0.614)">
<ellipse cx="0" cy="178.5" rx="37" ry="3.2" fill="#fff" opacity=".55"/>
<path d="M-16.5,79 L16.5,79 C17,88 36.2,88 36.2,98 L36.2,172 Q36.2,176.7 31.5,176.7 L-31.5,176.7 Q-36.2,176.7 -36.2,172 L-36.2,98 C-36.2,88 -17,88 -16.5,79 Z" fill="url(#glass)" opacity=".93"/>
<path d="M-30,160 Q0,156.5 30,160 L31,170 Q0,173 -31,170 Z" fill="#cfcbd3" opacity=".55"/>
<rect x="-33" y="171" width="66" height="3.6" rx="1.8" fill="#fff" opacity=".8"/>
<path d="M-14,84.5 Q0,82 14,84.5" stroke="#cfc9d2" stroke-width="1.2" fill="none"/>
<rect x="-36.2" y="101.5" width="72.4" height="54.6" fill="#fefefe"/>
<rect x="-36.2" y="101.3" width="72.4" height=".9" fill="#b774a2"/><rect x="-36.2" y="155.5" width="72.4" height=".9" fill="#b774a2"/>
<path d="M-11.02,111.00 L-8.62,107.88 L-4.30,109.75 L-0.70,107.25 L2.90,110.38 L7.22,108.75 L9.14,114.12 L12.50,116.25 L12.02,119.50 L5.30,119.12 L0.50,117.88 L-5.50,118.50 L-10.30,119.75 Z" fill="#c3a0d6" opacity=".5"/><path d="M-10.30,119.12 L-8.62,109.75 M-11.50,116.62 C-4.30,114.75 2.90,119.12 12.02,116.00 M-7.90,108.25 C-1.90,111.00 2.90,107.25 8.90,109.12 L6.26,118.50" fill="none" stroke="#b48fd0" stroke-width="0.53" stroke-linecap="round" opacity=".8"/><text x="-9.10" y="117.25" font-family='"Liberation Serif", serif' font-size="10.25" font-weight="700" font-style="italic" fill="#a77cc6" textLength="14.40" lengthAdjust="spacingAndGlyphs" opacity=".9">Pics</text><text x="4.82" y="118.88" font-family='"Liberation Sans", sans-serif' font-size="3.75" font-weight="700" font-style="italic" fill="#9a6fbc" textLength="7.20" lengthAdjust="spacingAndGlyphs">nails</text>
<text x="0.00" y="134.80" font-family='"Liberation Sans", "DejaVu Sans", sans-serif' font-size="11.20" font-weight="400" font-style="normal" fill="#a56f97" text-anchor="middle" textLength="48.30" lengthAdjust="spacingAndGlyphs">NAIL PREP</text>
<text x="0.00" y="141.60" font-family='"Liberation Sans", "DejaVu Sans", sans-serif' font-size="5.00" font-weight="400" font-style="normal" fill="#8f7f8c" text-anchor="middle" textLength="40.50" lengthAdjust="spacingAndGlyphs">Nail Dehydrator</text>
<text x="0.00" y="149.00" font-family='"Liberation Sans", "DejaVu Sans", sans-serif' font-size="2.60" font-weight="700" font-style="normal" fill="#555" text-anchor="middle">12 ml</text>
<text x="0" y="152.6" text-anchor="middle" font-family='"Liberation Sans", "DejaVu Sans", sans-serif' font-size="2.6" font-weight="700" textLength="36" lengthAdjust="spacing" fill="#777">www.picsnails.com</text>
<path d="M-10.3,7 Q-10.3,0 -4.5,0 L4.5,0 Q10.3,0 10.3,7 L16.7,80.2 L-16.7,80.2 Z" fill="#0e0e10"/>
<path d="M-9.8,8 L-2.5,6 L-3.5,79.7 L-16.2,79.7 Z" fill="url(#capHL)"/>
<path d="M9.2,12 L10.1,12 L16.2,79.5 L14,79.5 Z" fill="#66666b" opacity=".7" filter="url(#bl07)"/>
</g>
<g transform="translate(203.30,1226.30) scale(0.627)">
<ellipse cx="0" cy="178.5" rx="37" ry="3.2" fill="#fff" opacity=".55"/>
<path d="M-16.5,79 L16.5,79 C17,88 36.2,88 36.2,98 L36.2,172 Q36.2,176.7 31.5,176.7 L-31.5,176.7 Q-36.2,176.7 -36.2,172 L-36.2,98 C-36.2,88 -17,88 -16.5,79 Z" fill="url(#glass)" opacity=".93"/>
<path d="M-30,160 Q0,156.5 30,160 L31,170 Q0,173 -31,170 Z" fill="#cfcbd3" opacity=".55"/>
<rect x="-33" y="171" width="66" height="3.6" rx="1.8" fill="#fff" opacity=".8"/>
<path d="M-14,84.5 Q0,82 14,84.5" stroke="#cfc9d2" stroke-width="1.2" fill="none"/>
<rect x="-36.2" y="101.5" width="72.4" height="54.6" fill="#fefefe"/>
<rect x="-36.2" y="101.3" width="72.4" height=".9" fill="#b774a2"/><rect x="-36.2" y="155.5" width="72.4" height=".9" fill="#b774a2"/>
<path d="M-11.02,111.00 L-8.62,107.88 L-4.30,109.75 L-0.70,107.25 L2.90,110.38 L7.22,108.75 L9.14,114.12 L12.50,116.25 L12.02,119.50 L5.30,119.12 L0.50,117.88 L-5.50,118.50 L-10.30,119.75 Z" fill="#c3a0d6" opacity=".5"/><path d="M-10.30,119.12 L-8.62,109.75 M-11.50,116.62 C-4.30,114.75 2.90,119.12 12.02,116.00 M-7.90,108.25 C-1.90,111.00 2.90,107.25 8.90,109.12 L6.26,118.50" fill="none" stroke="#b48fd0" stroke-width="0.53" stroke-linecap="round" opacity=".8"/><text x="-9.10" y="117.25" font-family='"Liberation Serif", serif' font-size="10.25" font-weight="700" font-style="italic" fill="#a77cc6" textLength="14.40" lengthAdjust="spacingAndGlyphs" opacity=".9">Pics</text><text x="4.82" y="118.88" font-family='"Liberation Sans", sans-serif' font-size="3.75" font-weight="700" font-style="italic" fill="#9a6fbc" textLength="7.20" lengthAdjust="spacingAndGlyphs">nails</text>
<text x="0.00" y="134.80" font-family='"Liberation Sans", "DejaVu Sans", sans-serif' font-size="11.20" font-weight="400" font-style="normal" fill="#a56f97" text-anchor="middle" textLength="42.00" lengthAdjust="spacingAndGlyphs">PRIMER</text>
<text x="0.00" y="141.60" font-family='"Liberation Sans", "DejaVu Sans", sans-serif' font-size="5.00" font-weight="400" font-style="normal" fill="#8f7f8c" text-anchor="middle" textLength="53.00" lengthAdjust="spacingAndGlyphs">Promotore Adesione</text>
<text x="0.00" y="149.00" font-family='"Liberation Sans", "DejaVu Sans", sans-serif' font-size="2.60" font-weight="700" font-style="normal" fill="#555" text-anchor="middle">12 ml</text>
<text x="0" y="152.6" text-anchor="middle" font-family='"Liberation Sans", "DejaVu Sans", sans-serif' font-size="2.6" font-weight="700" textLength="36" lengthAdjust="spacing" fill="#777">www.picsnails.com</text>
<path d="M-10.3,7 Q-10.3,0 -4.5,0 L4.5,0 Q10.3,0 10.3,7 L16.7,80.2 L-16.7,80.2 Z" fill="#0e0e10"/>
<path d="M-9.8,8 L-2.5,6 L-3.5,79.7 L-16.2,79.7 Z" fill="url(#capHL)"/>
<path d="M9.2,12 L10.1,12 L16.2,79.5 L14,79.5 Z" fill="#66666b" opacity=".7" filter="url(#bl07)"/>
</g>
<g transform="translate(323.10,1223.90) scale(1)">
<ellipse cx="0" cy="113" rx="22" ry="1.8" fill="#fff" opacity=".5"/>
<path d="M-10.2,48 L10.2,48 C10.6,55 21.7,55.5 21.7,63 L21.7,108.5 Q21.7,111.7 18.5,111.7 L-18.5,111.7 Q-21.7,111.7 -21.7,108.5 L-21.7,63 C-21.7,55.5 -10.6,55 -10.2,48 Z" fill="#f7f3f8"/>
<path d="M-21.7,66 L-21.7,108.5 Q-21.7,111.7 -18.5,111.7 L-16,111.7 L-16,64 Z" fill="#ebe4ee" opacity=".7"/>
<path d="M-8.08,61.90 L-6.23,59.90 L-2.90,61.10 L-0.12,59.50 L2.65,61.50 L5.98,60.46 L7.46,63.90 L10.05,65.26 L9.68,67.34 L4.50,67.10 L0.80,66.30 L-3.82,66.70 L-7.52,67.50 Z" fill="#c3a0d6" opacity=".5"/><path d="M-7.52,67.10 L-6.23,61.10 M-8.45,65.50 C-2.90,64.30 2.65,67.10 9.68,65.10 M-5.67,60.14 C-1.05,61.90 2.65,59.50 7.28,60.70 L5.24,66.70" fill="none" stroke="#b48fd0" stroke-width="0.41" stroke-linecap="round" opacity=".8"/><text x="-6.60" y="65.90" font-family='"Liberation Serif", serif' font-size="6.56" font-weight="700" font-style="italic" fill="#a77cc6" textLength="11.10" lengthAdjust="spacingAndGlyphs" opacity=".9">Pics</text><text x="4.13" y="66.94" font-family='"Liberation Sans", sans-serif' font-size="2.40" font-weight="700" font-style="italic" fill="#9a6fbc" textLength="5.55" lengthAdjust="spacingAndGlyphs">nails</text>
<text x="0.00" y="79.90" font-family='"Liberation Sans", "DejaVu Sans", sans-serif' font-size="7.40" font-weight="400" font-style="normal" fill="#444047" text-anchor="middle" textLength="31.80" lengthAdjust="spacingAndGlyphs">BASE COAT</text>
<text x="0.00" y="83.60" font-family='"Liberation Serif", serif' font-size="2.60" font-weight="700" font-style="italic" fill="#d277b0" text-anchor="middle">Professional</text>
<rect x="-15.2" y="84.6" width="33.1" height="5.1" rx="2.55" fill="#c2529c"/><circle cx="15.2" cy="87.1" r="3.1" fill="#e9a6cf"/><circle cx="15.2" cy="87.1" r="2.1" fill="#c2529c" opacity=".6"/>
<text x="-1.50" y="88.60" font-family='"Liberation Sans", "DejaVu Sans", sans-serif' font-size="2.90" font-weight="700" font-style="normal" fill="#f7dbea" text-anchor="middle" textLength="20.00" lengthAdjust="spacingAndGlyphs">Ultra Gloss Finish</text>
<text x="0.00" y="93.00" font-family='"Liberation Sans", "DejaVu Sans", sans-serif' font-size="2.40" font-weight="400" font-style="normal" fill="#777" text-anchor="middle">Soak - Off UV/LED Gel</text>
<text x="0.00" y="103.40" font-family='"Liberation Sans", "DejaVu Sans", sans-serif' font-size="2.70" font-weight="700" font-style="normal" fill="#444" text-anchor="middle">12 ml - 0,4 fl. oz.</text>
<text x="0" y="106.9" text-anchor="middle" font-family='"Liberation Sans", "DejaVu Sans", sans-serif' font-size="2.3" font-weight="700" textLength="33" lengthAdjust="spacing" fill="#666">www.picsnails.net</text>
<path d="M-7.7,5 Q-7.7,0 -3,0 L3,0 Q7.7,0 7.7,5 L10.25,49.1 L-10.25,49.1 Z" fill="#0e0e10"/>
<path d="M-7.3,6 L-2,4.5 L-2.6,48.8 L-10,48.8 Z" fill="url(#capHL)"/>
<path d="M6.9,8 L7.4,8 L9.9,48.6 L8.7,48.6 Z" fill="#66666b" opacity=".7" filter="url(#bl07)"/>
</g>
<g transform="translate(438.15,1224.00) scale(0.383)">
<path d="M-24.7,3 Q-24.7,0 -21.7,0 L21.7,0 Q24.7,0 24.7,3 L27.9,153 L-27.9,153 Z" fill="url(#capS)"/>
<path d="M-33.7,172 L-33.7,160 Q-33.7,152.5 -26,152.5 L26,152.5 Q33.7,152.5 33.7,160 L33.7,172 Z" fill="#0b0b0d"/>
<rect x="-63.4" y="166.5" width="126.8" height="131.7" rx="9" ry="9" fill="#0a0a0c"/>
<rect x="-60.5" y="169" width="3" height="120" rx="1.5" fill="#2c2c30" opacity=".7"/>
<rect x="-51.7" y="181.1" width="103.6" height="103.9" rx="4.5" fill="#f5f3f6"/>
<path d="M-51.7,205 Q-36,203 -35,225 L-33,270 Q-33,281 -44,281 L-51.7,281 Z" fill="#fdfdfe"/>
<path d="M-21.66,193.60 L-17.46,188.10 L-9.90,191.40 L-3.60,187.00 L2.70,192.50 L10.26,189.64 L13.62,199.10 L19.50,202.84 L18.66,208.56 L6.90,207.90 L-1.50,205.70 L-12.00,206.80 L-20.40,209.00 Z" fill="#c3a0d6" opacity=".5"/><path d="M-20.40,207.90 L-17.46,191.40 M-22.50,203.50 C-9.90,200.20 2.70,207.90 18.66,202.40 M-16.20,188.76 C-5.70,193.60 2.70,187.00 13.20,190.30 L8.58,206.80" fill="none" stroke="#b48fd0" stroke-width="0.92" stroke-linecap="round" opacity=".8"/><text x="-18.30" y="204.60" font-family='"Liberation Serif", serif' font-size="18.04" font-weight="700" font-style="italic" fill="#a77cc6" textLength="25.20" lengthAdjust="spacingAndGlyphs" opacity=".9">Pics</text><text x="6.06" y="207.46" font-family='"Liberation Sans", sans-serif' font-size="6.60" font-weight="700" font-style="italic" fill="#9a6fbc" textLength="12.60" lengthAdjust="spacingAndGlyphs">nails</text>
<text x="0.00" y="225.20" font-family='"Liberation Sans", "DejaVu Sans", sans-serif' font-size="10.60" font-weight="700" font-style="normal" fill="#c2529c" text-anchor="middle" textLength="53.00" lengthAdjust="spacingAndGlyphs">ONE STEP</text>
<text x="0.00" y="232.90" font-family='"Liberation Sans", "DejaVu Sans", sans-serif' font-size="7.50" font-weight="700" font-style="normal" fill="#3a3a3c" text-anchor="middle" textLength="64.30" lengthAdjust="spacingAndGlyphs">GEL NAIL POLISH</text>
<text x="0.00" y="242.60" font-family='"Liberation Serif", serif' font-size="6.30" font-weight="700" font-style="italic" fill="#d277b0" text-anchor="middle" textLength="34.00" lengthAdjust="spacingAndGlyphs">Professional</text>
<rect x="-32.6" y="246.6" width="84.5" height="11.2" fill="#fdfdfd"/><rect x="-32.6" y="246.2" width="84.5" height=".9" fill="#cfcdd0"/><rect x="-32.6" y="257.4" width="84.5" height=".9" fill="#cfcdd0"/>
<text x="0.00" y="254.60" font-family='"Liberation Sans", "DejaVu Sans", sans-serif' font-size="5.80" font-weight="700" font-style="normal" fill="#2a2a2c" text-anchor="middle" textLength="14.30" lengthAdjust="spacingAndGlyphs">White</text>
<circle cx="33.3" cy="252.1" r="7.4" fill="#c2529c"/><text x="33.30" y="254.90" font-family='"Liberation Sans", "DejaVu Sans", sans-serif' font-size="7.50" font-weight="700" font-style="normal" fill="#fff" text-anchor="middle">1</text>
<text x="0.00" y="267.30" font-family='"Liberation Sans", "DejaVu Sans", sans-serif' font-size="6.20" font-weight="400" font-style="italic" fill="#6a6a6e" text-anchor="middle" textLength="46.80" lengthAdjust="spacingAndGlyphs">SOAK - OFF UV/LED</text>
<text x="0.00" y="274.20" font-family='"Liberation Sans", "DejaVu Sans", sans-serif' font-size="4.30" font-weight="700" font-style="normal" fill="#3a3a3c" text-anchor="middle" textLength="31.30" lengthAdjust="spacingAndGlyphs">12 ml - 0,4 fl. oz.</text>
<text x="0" y="280.1" text-anchor="middle" font-family='"Liberation Sans", "DejaVu Sans", sans-serif' font-size="3.9" font-weight="700" textLength="64.5" lengthAdjust="spacing" fill="#3a3a3c">www.<tspan fill="#d277b0">picsnails</tspan>.net</text>
</g>
<g transform="translate(552.00,1227.40) scale(0.99)">
<ellipse cx="0" cy="113" rx="22" ry="1.8" fill="#fff" opacity=".5"/>
<path d="M-10.2,48 L10.2,48 C10.6,55 21.7,55.5 21.7,63 L21.7,108.5 Q21.7,111.7 18.5,111.7 L-18.5,111.7 Q-21.7,111.7 -21.7,108.5 L-21.7,63 C-21.7,55.5 -10.6,55 -10.2,48 Z" fill="#f7f3f8"/>
<path d="M-21.7,66 L-21.7,108.5 Q-21.7,111.7 -18.5,111.7 L-16,111.7 L-16,64 Z" fill="#ebe4ee" opacity=".7"/>
<path d="M-8.08,61.90 L-6.23,59.90 L-2.90,61.10 L-0.12,59.50 L2.65,61.50 L5.98,60.46 L7.46,63.90 L10.05,65.26 L9.68,67.34 L4.50,67.10 L0.80,66.30 L-3.82,66.70 L-7.52,67.50 Z" fill="#c3a0d6" opacity=".5"/><path d="M-7.52,67.10 L-6.23,61.10 M-8.45,65.50 C-2.90,64.30 2.65,67.10 9.68,65.10 M-5.67,60.14 C-1.05,61.90 2.65,59.50 7.28,60.70 L5.24,66.70" fill="none" stroke="#b48fd0" stroke-width="0.41" stroke-linecap="round" opacity=".8"/><text x="-6.60" y="65.90" font-family='"Liberation Serif", serif' font-size="6.56" font-weight="700" font-style="italic" fill="#a77cc6" textLength="11.10" lengthAdjust="spacingAndGlyphs" opacity=".9">Pics</text><text x="4.13" y="66.94" font-family='"Liberation Sans", sans-serif' font-size="2.40" font-weight="700" font-style="italic" fill="#9a6fbc" textLength="5.55" lengthAdjust="spacingAndGlyphs">nails</text>
<text x="0.00" y="79.90" font-family='"Liberation Sans", "DejaVu Sans", sans-serif' font-size="7.40" font-weight="400" font-style="normal" fill="#444047" text-anchor="middle" textLength="29.00" lengthAdjust="spacingAndGlyphs">TOP COAT</text>
<text x="0.00" y="83.60" font-family='"Liberation Serif", serif' font-size="2.60" font-weight="700" font-style="italic" fill="#d277b0" text-anchor="middle">Professional</text>
<rect x="-15.2" y="84.6" width="33.1" height="5.1" rx="2.55" fill="#c2529c"/><circle cx="15.2" cy="87.1" r="3.1" fill="#e9a6cf"/><circle cx="15.2" cy="87.1" r="2.1" fill="#c2529c" opacity=".6"/>
<text x="-1.50" y="88.60" font-family='"Liberation Sans", "DejaVu Sans", sans-serif' font-size="2.90" font-weight="700" font-style="normal" fill="#f7dbea" text-anchor="middle" textLength="20.00" lengthAdjust="spacingAndGlyphs">Ultra Gloss Finish</text>
<text x="0.00" y="93.00" font-family='"Liberation Sans", "DejaVu Sans", sans-serif' font-size="2.40" font-weight="400" font-style="normal" fill="#777" text-anchor="middle">Soak - Off UV/LED Gel</text>
<text x="0.00" y="103.40" font-family='"Liberation Sans", "DejaVu Sans", sans-serif' font-size="2.70" font-weight="700" font-style="normal" fill="#444" text-anchor="middle">12 ml - 0,4 fl. oz.</text>
<text x="0" y="106.9" text-anchor="middle" font-family='"Liberation Sans", "DejaVu Sans", sans-serif' font-size="2.3" font-weight="700" textLength="33" lengthAdjust="spacing" fill="#666">www.picsnails.net</text>
<path d="M-7.7,5 Q-7.7,0 -3,0 L3,0 Q7.7,0 7.7,5 L10.25,49.1 L-10.25,49.1 Z" fill="#0e0e10"/>
<path d="M-7.3,6 L-2,4.5 L-2.6,48.8 L-10,48.8 Z" fill="url(#capHL)"/>
<path d="M6.9,8 L7.4,8 L9.9,48.6 L8.7,48.6 Z" fill="#66666b" opacity=".7" filter="url(#bl07)"/>
</g>
<rect x="30" y="962.3" width="178" height="38.5" rx="19.25" fill="#d171ad"/>
<rect x="244.2" y="962.3" width="178.0" height="38.5" rx="19.25" fill="#d171ad"/>
<rect x="457.6" y="962.3" width="178.89999999999998" height="38.5" rx="19.25" fill="#d171ad"/>
<path d="M45.80,1368.50 A11.70,11.70 0 0 1 45.80,1345.10 L129.10,1345.10 A10.5,10.5 0 0 1 139.60,1355.60 L139.60,1360.90 A2.2,2.2 0 0 0 141.80,1363.10 L141.80,1368.50 Z" fill="#b21079"/>
<path d="M148.50,1368.50 L148.50,1363.10 A2.2,2.2 0 0 0 150.70,1360.90 L150.70,1355.60 A10.5,10.5 0 0 1 161.20,1345.10 L245.30,1345.10 A10.5,10.5 0 0 1 255.80,1355.60 L255.80,1360.90 A2.2,2.2 0 0 0 258.00,1363.10 L258.00,1368.50 Z" fill="#b21079"/>
<path d="M265.80,1368.50 L265.80,1363.10 A2.2,2.2 0 0 0 268.00,1360.90 L268.00,1355.60 A10.5,10.5 0 0 1 278.50,1345.10 L362.20,1345.10 A10.5,10.5 0 0 1 372.70,1355.60 L372.70,1360.90 A2.2,2.2 0 0 0 374.90,1363.10 L374.90,1368.50 Z" fill="#b21079"/>
<path d="M382.00,1368.50 L382.00,1363.10 A2.2,2.2 0 0 0 384.20,1360.90 L384.20,1355.60 A10.5,10.5 0 0 1 394.70,1345.10 L478.20,1345.10 A10.5,10.5 0 0 1 488.70,1355.60 L488.70,1360.90 A2.2,2.2 0 0 0 490.90,1363.10 L490.90,1368.50 Z" fill="#b21079"/>
<path d="M499.80,1368.50 L499.80,1363.10 A2.2,2.2 0 0 0 502.00,1360.90 L502.00,1355.60 A10.5,10.5 0 0 1 512.50,1345.10 L596.30,1345.10 A10.5,10.5 0 0 1 606.80,1355.60 L606.80,1360.90 A2.2,2.2 0 0 0 609.00,1363.10 L609.00,1368.50 Z" fill="#b21079"/>
<text x="86.70" y="621.60" font-family='"Liberation Sans", "DejaVu Sans", sans-serif' font-size="37.20" font-weight="400" font-style="normal" fill="#fff" textLength="205.70" lengthAdjust="spacingAndGlyphs">ONE STEP</text>
<text x="44.20" y="990.60" font-family='"Liberation Sans", "DejaVu Sans", sans-serif' font-size="26.20" font-weight="400" font-style="normal" fill="#fff" textLength="151.40" lengthAdjust="spacingAndGlyphs">NAIL PREP</text>
<text x="277.00" y="990.60" font-family='"Liberation Sans", "DejaVu Sans", sans-serif' font-size="26.20" font-weight="400" font-style="normal" fill="#fff" textLength="113.00" lengthAdjust="spacingAndGlyphs">PRIMER</text>
<text x="474.50" y="990.60" font-family='"Liberation Sans", "DejaVu Sans", sans-serif' font-size="26.20" font-weight="400" font-style="normal" fill="#fff" textLength="144.50" lengthAdjust="spacingAndGlyphs">ONE STEP</text>
<text x="42.10" y="1361.80" font-family='"Liberation Sans", "DejaVu Sans", sans-serif' font-size="15.00" font-weight="400" font-style="normal" fill="#fff" textLength="89.70" lengthAdjust="spacingAndGlyphs">NAIL PREP</text>
<text x="170.60" y="1361.80" font-family='"Liberation Sans", "DejaVu Sans", sans-serif' font-size="15.00" font-weight="400" font-style="normal" fill="#fff" textLength="66.20" lengthAdjust="spacingAndGlyphs">PRIMER</text>
<text x="283.50" y="1361.80" font-family='"Liberation Sans", "DejaVu Sans", sans-serif' font-size="15.00" font-weight="400" font-style="normal" fill="#fff" textLength="73.00" lengthAdjust="spacingAndGlyphs">BASE UV</text>
<text x="393.50" y="1361.80" font-family='"Liberation Sans", "DejaVu Sans", sans-serif' font-size="15.00" font-weight="400" font-style="normal" fill="#fff" textLength="85.50" lengthAdjust="spacingAndGlyphs">ONE STEP</text>
<text x="523.70" y="1361.80" font-family='"Liberation Sans", "DejaVu Sans", sans-serif' font-size="15.00" font-weight="400" font-style="normal" fill="#fff" textLength="60.90" lengthAdjust="spacingAndGlyphs">TOP UV</text>
<text x="198.30" y="932.34" font-family='"Liberation Sans", "DejaVu Sans", sans-serif' font-size="68.09" font-weight="700" fill="#434b50" stroke="#434b50" stroke-width="2.43" stroke-linejoin="miter" textLength="50.28" lengthAdjust="spacingAndGlyphs">+</text>
<text x="411.20" y="932.34" font-family='"Liberation Sans", "DejaVu Sans", sans-serif' font-size="68.09" font-weight="700" fill="#434b50" stroke="#434b50" stroke-width="2.43" stroke-linejoin="miter" textLength="50.28" lengthAdjust="spacingAndGlyphs">+</text>
<text x="128.56" y="1327.56" font-family='"Liberation Sans", "DejaVu Sans", sans-serif' font-size="40.48" font-weight="700" fill="#434b50" stroke="#434b50" stroke-width="1.54" stroke-linejoin="miter" textLength="29.41" lengthAdjust="spacingAndGlyphs">+</text>
<text x="248.16" y="1327.56" font-family='"Liberation Sans", "DejaVu Sans", sans-serif' font-size="40.48" font-weight="700" fill="#434b50" stroke="#434b50" stroke-width="1.54" stroke-linejoin="miter" textLength="29.41" lengthAdjust="spacingAndGlyphs">+</text>
<text x="363.96" y="1327.56" font-family='"Liberation Sans", "DejaVu Sans", sans-serif' font-size="40.48" font-weight="700" fill="#434b50" stroke="#434b50" stroke-width="1.54" stroke-linejoin="miter" textLength="29.41" lengthAdjust="spacingAndGlyphs">+</text>
<text x="479.06" y="1327.56" font-family='"Liberation Sans", "DejaVu Sans", sans-serif' font-size="40.48" font-weight="700" fill="#434b50" stroke="#434b50" stroke-width="1.54" stroke-linejoin="miter" textLength="29.41" lengthAdjust="spacingAndGlyphs">+</text>
<text y="314.20" font-family='"Liberation Sans", "DejaVu Sans", sans-serif' font-size="32.50" font-weight="400" font-style="normal" fill="#0a0a0a"><tspan x="238.59" textLength="75.39" lengthAdjust="spacingAndGlyphs">Solo</tspan><tspan font-size="1"> </tspan><tspan x="323.10" textLength="67.69" lengthAdjust="spacingAndGlyphs">One</tspan><tspan font-size="1"> </tspan><tspan x="399.25" textLength="79.37" lengthAdjust="spacingAndGlyphs">Step</tspan></text>
<text y="343.90" font-family='"Liberation Sans", "DejaVu Sans", sans-serif' font-size="26.80" font-weight="700" font-style="normal" fill="#f9c3cf"><tspan x="237.69" y="343.90" textLength="62.30" lengthAdjust="spacingAndGlyphs">14+</tspan><tspan font-size="1"> </tspan><tspan x="310.29" y="344.20" font-size="32.60" textLength="101.35" lengthAdjust="spacingAndGlyphs">Giorni</tspan></text>
<text y="708.30" font-family='"Liberation Sans", "DejaVu Sans", sans-serif' font-size="32.00" font-weight="400" font-style="italic" fill="#0a0a0a"><tspan x="67.05" textLength="152.73" lengthAdjust="spacingAndGlyphs">Consiglio</tspan><tspan font-size="1"> </tspan><tspan x="231.08" textLength="51.13" lengthAdjust="spacingAndGlyphs">per</tspan><tspan font-size="1"> </tspan><tspan x="292.29" textLength="131.68" lengthAdjust="spacingAndGlyphs">maggior</tspan><tspan font-size="1"> </tspan><tspan x="434.63" textLength="107.17" lengthAdjust="spacingAndGlyphs">durata</tspan></text>
<text y="737.20" font-family='"Liberation Sans", "DejaVu Sans", sans-serif' font-size="27.20" font-weight="700" font-style="italic" fill="#cf74b0"><tspan x="68.21" y="737.20" textLength="66.73" lengthAdjust="spacingAndGlyphs">20+</tspan><tspan font-size="1"> </tspan><tspan x="144.83" y="737.30" font-size="32.60" textLength="100.79" lengthAdjust="spacingAndGlyphs">Giorni</tspan></text>
<text y="1159.20" font-family='"Liberation Sans", "DejaVu Sans", sans-serif' font-size="32.00" font-weight="400" font-style="italic" fill="#0a0a0a"><tspan x="60.44" textLength="153.75" lengthAdjust="spacingAndGlyphs">Consiglio</tspan><tspan font-size="1"> </tspan><tspan x="225.27" textLength="50.74" lengthAdjust="spacingAndGlyphs">per</tspan><tspan font-size="1"> </tspan><tspan x="286.10" textLength="130.08" lengthAdjust="spacingAndGlyphs">maggior</tspan><tspan font-size="1"> </tspan><tspan x="427.22" textLength="107.78" lengthAdjust="spacingAndGlyphs">durata</tspan></text>
<text y="1188.30" font-family='"Liberation Sans", "DejaVu Sans", sans-serif' font-size="26.60" font-weight="700" font-style="italic" fill="#a61474"><tspan x="61.08" y="1188.30" textLength="69.70" lengthAdjust="spacingAndGlyphs">30+</tspan><tspan font-size="1"> </tspan><tspan x="140.73" y="1188.30" font-size="32.80" textLength="100.69" lengthAdjust="spacingAndGlyphs">Giorni</tspan></text>
<text y="111.50" font-family='"Liberation Sans", "DejaVu Sans", sans-serif' font-size="78.50" font-weight="700" font-style="normal" fill="#c9529e"><tspan x="77.40" textLength="213.23" lengthAdjust="spacingAndGlyphs">VUOI</tspan><tspan font-size="1"> </tspan><tspan x="308.35" textLength="550.92" lengthAdjust="spacingAndGlyphs">AUMENTARE</tspan><tspan font-size="1"> </tspan><tspan x="878.64" textLength="110.86" lengthAdjust="spacingAndGlyphs">LA</tspan><tspan font-size="1"> </tspan><tspan x="1007.25" textLength="407.81" lengthAdjust="spacingAndGlyphs">DURATA?</tspan></text>
<text y="173.70" font-family='"Liberation Sans", "DejaVu Sans", sans-serif' font-size="62.50" font-weight="400" font-style="normal" fill="#3d464c"><tspan x="197.47" textLength="160.77" lengthAdjust="spacingAndGlyphs">Ecco</tspan><tspan font-size="1"> </tspan><tspan x="371.42" textLength="17.19" lengthAdjust="spacingAndGlyphs">i</tspan><tspan font-size="1"> </tspan><tspan x="400.85" textLength="262.83" lengthAdjust="spacingAndGlyphs">Consigli</tspan><tspan font-size="1"> </tspan><tspan x="678.51" textLength="160.89" lengthAdjust="spacingAndGlyphs">Della</tspan><tspan font-size="1"> </tspan><tspan x="858.77" textLength="224.65" lengthAdjust="spacingAndGlyphs">Master</tspan><tspan font-size="1"> </tspan><tspan x="1098.90" textLength="138.25" lengthAdjust="spacingAndGlyphs">Pics</tspan><tspan font-size="1"> </tspan><tspan x="1250.86" textLength="163.70" lengthAdjust="spacingAndGlyphs">Nails</tspan></text>
</svg>
</body></html>
